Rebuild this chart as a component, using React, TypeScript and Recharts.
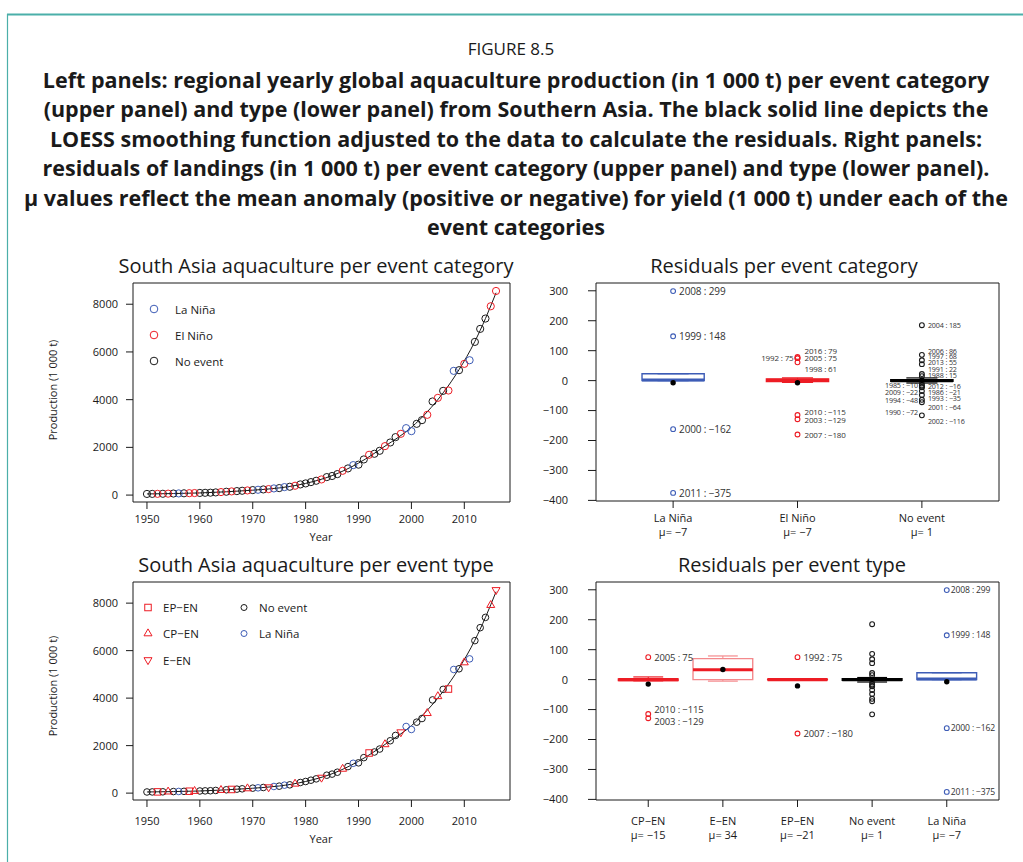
import React from "react";
import { ComposedChart, Scatter, Line, XAxis, YAxis, ReferenceArea, ReferenceLine } from "recharts";

const FONT = "'Open Sans', 'Noto Sans', sans-serif";
const RED = "#ED1C24";
const PINK = "#F4898C";
const BLUE = "#3D5CB6";
const INK = "#1A1A1A";
const TEAL = "#4BAFA9";

// yearly production, Southern Asia aquaculture (1 000 t)
const years = [
  1950, 1951, 1952, 1953, 1954, 1955, 1956, 1957, 1958, 1959,
  1960, 1961, 1962, 1963, 1964, 1965, 1966, 1967, 1968, 1969,
  1970, 1971, 1972, 1973, 1974, 1975, 1976, 1977, 1978, 1979,
  1980, 1981, 1982, 1983, 1984, 1985, 1986, 1987, 1988, 1989,
  1990, 1991, 1992, 1993, 1994, 1995, 1996, 1997, 1998, 1999,
  2000, 2001, 2002, 2003, 2004, 2005, 2006, 2007, 2008, 2009,
  2010, 2011, 2012, 2013, 2014, 2015, 2016,
];
const production = [
  48, 50, 52, 55, 60, 65, 70, 75, 80, 85,
  90, 95, 100, 112, 126, 140, 154, 167, 181, 195,
  209, 223, 237, 251, 279, 293, 335, 349, 391, 447,
  489, 544, 600, 656, 754, 800, 880, 1018, 1117, 1256,
  1275, 1494, 1689, 1731, 1856, 2052, 2205, 2429, 2568, 2806,
  2680, 2987, 3141, 3364, 3924, 4076, 4369, 4383, 5207, 5235,
  5500, 5653, 6421, 6966, 7400, 7915, 8556,
];

// event years
const laNinaYears = [1956, 1971, 1974, 1976, 1989, 1999, 2000, 2008, 2011];
const epEnYears = [1952, 1958, 1966, 1992, 2007];
const cpEnYears = [1954, 1959, 1964, 1969, 1978, 1987, 1995, 2003, 2005, 2010, 2015];
const eEnYears = [1973, 1983, 1998, 2016];

// LOESS curve
const loessYears = [1950, 1955, 1960, 1965, 1970, 1975, 1980, 1985, 1990, 1995, 2000, 2003, 2006, 2009, 2012, 2014, 2016];
const loessFit = [48, 64, 90, 138, 205, 300, 490, 815, 1340, 2050, 2840, 3490, 4285, 5255, 6440, 7400, 8480];

const yearTicks = [1950, 1960, 1970, 1980, 1990, 2000, 2010];
const prodTicks = [0, 2000, 4000, 6000, 8000];
const resTicks = [-400, -300, -200, -100, 0, 100, 200, 300];

// residuals per event category: [low whisker, q1, median, q3, high whisker]
const catNames = ["La Niña", "El Niño", "No event"];
const catMeans = [-7, -7, 1];
const catBoxes = [
  [0, 0, 2, 23, 23],
  [-6, -3.5, 0.5, 5.5, 9],
  [-8, -2, 0, 3, 9],
];
const laNinaOutYears = [2008, 1999, 2000, 2011];
const laNinaOutRes = [299, 148, -162, -375];
const elNinoOutYears = [2016, 2005, 1992, 1998, 2010, 2003, 2007];
const elNinoOutRes = [79, 75, 75, 61, -115, -129, -180];
const noEventOutYears = [2004, 2006, 1997, 2013, 1991, 1988, 1985, 2012, 1986, 2009, 1993, 1994, 2001, 1990, 2002];
const noEventOutRes = [185, 86, 68, 55, 22, 15, -10, -16, -21, -22, -35, -48, -64, -72, -116];

// residuals per event type
const typeNames = ["CP\u2212EN", "E\u2212EN", "EP\u2212EN", "No event", "La Niña"];
const typeMeans = [-15, 34, -21, 1, -7];
const typeBoxes = [
  [-4, -3.5, 0, 2.5, 9],
  [-5, 0, 33, 70, 79],
  [-1, -1, 0, 1, 1],
  [-8, -2, 0, 3, 7],
  [0, 0, 2, 23, 23],
];
const cpEnOutYears = [2005, 2010, 2003];
const cpEnOutRes = [75, -115, -129];
const epEnOutYears = [1992, 2007];
const epEnOutRes = [75, -180];

// label placement tweaks (px), to keep crowded labels apart like the original
const catLeftYears = [1992, 1985, 2009, 1994, 1990];
const catNudge: Record<number, number> = {
  2006: -3.5, 1997: -4, 2013: -2, 1991: -5.5, 1988: -1, 2012: 1, 1986: 5, 1993: 7,
  2001: 7.5, 2002: 6, 1985: 1.5, 2009: 4.5, 1994: 5.5, 1990: 9.5,
  2016: -6.5, 1998: 6, 2010: -4, 1992: -1, 2005: -1,
};
const typeNudge: Record<number, number> = { 2010: -4.5, 2003: 3.5 };

const titleLines = [
  "Left panels: regional yearly global aquaculture production (in 1 000 t) per event category",
  "(upper panel) and type (lower panel) from Southern Asia. The black solid line depicts the",
  "LOESS smoothing function adjusted to the data to calculate the residuals. Right panels:",
  "residuals of landings (in 1 000 t) per event category (upper panel) and type (lower panel).",
  "μ values reflect the mean anomaly (positive or negative) for yield (1 000 t) under each of the",
  "event categories",
];

const fmt = (v: number) => (v < 0 ? "\u2212" + Math.abs(v) : String(v));

const ring = (r: number, color: string) => (p: any) => (
  <circle cx={p.cx} cy={p.cy} r={r} fill="none" stroke={color} strokeWidth={1} />
);
const dot = (r: number, color: string) => (p: any) => <circle cx={p.cx} cy={p.cy} r={r} fill={color} />;
const square = (s: number, color: string) => (p: any) => (
  <rect x={p.cx - s / 2} y={p.cy - s / 2} width={s} height={s} fill="none" stroke={color} strokeWidth={1} />
);
const triUp = (s: number, color: string) => (p: any) => {
  const h = s * 0.866;
  return (
    <path
      d={`M${p.cx},${p.cy - (2 * h) / 3}L${p.cx + s / 2},${p.cy + h / 3}L${p.cx - s / 2},${p.cy + h / 3}Z`}
      fill="none"
      stroke={color}
      strokeWidth={1}
    />
  );
};
const triDown = (s: number, color: string) => (p: any) => {
  const h = s * 0.866;
  return (
    <path
      d={`M${p.cx},${p.cy + (2 * h) / 3}L${p.cx + s / 2},${p.cy - h / 3}L${p.cx - s / 2},${p.cy - h / 3}Z`}
      fill="none"
      stroke={color}
      strokeWidth={1}
    />
  );
};

const labelled =
  (color: string, fontSize: number, dx: number, nudge: Record<number, number>, leftYears: number[], showText = true) =>
  (p: any) => {
    const yr = p.payload.year;
    const left = leftYears.includes(yr);
    return (
      <g>
        <circle cx={p.cx} cy={p.cy} r={2.4} fill="none" stroke={color} strokeWidth={1.1} />
        {showText && (
          <text
            x={left ? p.cx - 4 : p.cx + dx}
            y={p.cy + (nudge[yr] ?? 0)}
            textAnchor={left ? "end" : "start"}
            dominantBaseline="central"
            fontSize={fontSize}
            letterSpacing={-0.15}
            fontFamily={FONT}
            fill="#333"
          >
            {`${yr} : ${fmt(p.payload.y)}`}
          </text>
        )}
      </g>
    );
  };

const tickStyle = { fill: INK, fontSize: 11, fontFamily: FONT };

function ProductionChart({
  boxTop,
  boxBottom,
  byType,
  xMargin,
}: {
  boxTop: number;
  boxBottom: number;
  byType: boolean;
  xMargin: number;
}) {
  const rows = years.map((yr, i) => ({ x: yr, y: production[i] }));
  const pick = (s: number[]) => rows.filter((r) => s.includes(r.x));
  const elNino = [...epEnYears, ...cpEnYears, ...eEnYears];
  const noEvent = rows.filter((r) => !laNinaYears.includes(r.x) && !elNino.includes(r.x));
  const loess = loessYears.map((yr, i) => ({ x: yr, y: loessFit[i] }));
  const series = byType
    ? [
        { data: noEvent, shape: ring(3.3, INK) },
        { data: pick(laNinaYears), shape: ring(3.3, BLUE) },
        { data: pick(epEnYears), shape: square(6.5, RED) },
        { data: pick(cpEnYears), shape: triUp(8, RED) },
        { data: pick(eEnYears), shape: triDown(8, RED) },
      ]
    : [
        { data: noEvent, shape: ring(3.6, INK) },
        { data: pick(elNino), shape: ring(3.6, RED) },
        { data: pick(laNinaYears), shape: ring(3.6, BLUE) },
      ];
  const xd = [1947.36, 2018.64];
  const yd = [-290, 8890];
  return (
    <div style={{ position: "absolute", left: 0, top: boxTop - 33 }}>
      <ComposedChart
        width={530}
        height={boxBottom - boxTop + 93}
        margin={{ top: 33, right: 20, left: 83, bottom: 30 }}
      >
        <XAxis
          type="number"
          dataKey="x"
          domain={xd}
          ticks={yearTicks}
          allowDataOverflow
          height={30}
          tickSize={7}
          tickMargin={xMargin}
          axisLine={false}
          tickLine={{ stroke: INK }}
          tick={tickStyle}
        />
        <YAxis
          type="number"
          dataKey="y"
          domain={yd}
          ticks={prodTicks}
          allowDataOverflow
          width={50}
          tickSize={7}
          tickMargin={8}
          axisLine={false}
          tickLine={{ stroke: INK }}
          tick={tickStyle}
        />
        <ReferenceArea x1={xd[0]} x2={xd[1]} y1={yd[0]} y2={yd[1]} fill="none" stroke={INK} strokeWidth={1} ifOverflow="visible" />
        <Line data={loess} dataKey="y" type="monotone" stroke={INK} strokeWidth={1} dot={false} isAnimationActive={false} />
        {series.map((s, i) => (
          <Scatter key={i} data={s.data} dataKey="y" shape={s.shape} isAnimationActive={false} />
        ))}
      </ComposedChart>
    </div>
  );
}

type OutSet = { data: { x: number; y: number; year: number }[]; shape: (p: any) => React.ReactElement };

function ResidualChart({
  boxTop,
  boxBottom,
  names,
  means,
  boxes,
  colors,
  boxColors,
  halfW,
  xd,
  xMargin,
  outliers,
}: {
  boxTop: number;
  boxBottom: number;
  names: string[];
  means: number[];
  boxes: number[][];
  colors: string[];
  boxColors: string[];
  halfW: number;
  xd: number[];
  xMargin: number;
  outliers: OutSet[];
}) {
  const yd = [-402, 326];
  const idx = names.map((_, i) => i + 1);
  const meanRows = means.map((m, i) => ({ x: i + 1, y: m }));
  const catTick = (p: any) => {
    const i = Math.round(p.payload.value) - 1;
    return (
      <text x={p.x} y={p.y} textAnchor="middle" fill={INK} fontSize={11} fontFamily={FONT}>
        <tspan x={p.x} dy="0.71em">
          {names[i]}
        </tspan>
        <tspan x={p.x} dy={14.5}>
          {"μ= " + fmt(means[i])}
        </tspan>
      </text>
    );
  };
  const boxEls = boxes.flatMap((b, k) => {
    const i = k + 1;
    const [lo, q1, med, q3, hi] = b;
    const c = colors[k];
    const bc = boxColors[k];
    return [
      <ReferenceLine key={`wl${k}`} segment={[{ x: i, y: lo }, { x: i, y: q1 }]} stroke={bc} strokeDasharray="3 2" ifOverflow="visible" />,
      <ReferenceLine key={`wh${k}`} segment={[{ x: i, y: q3 }, { x: i, y: hi }]} stroke={bc} strokeDasharray="3 2" ifOverflow="visible" />,
      <ReferenceLine key={`sl${k}`} segment={[{ x: i - halfW / 2, y: lo }, { x: i + halfW / 2, y: lo }]} stroke={bc} strokeWidth={1.2} ifOverflow="visible" />,
      <ReferenceLine key={`sh${k}`} segment={[{ x: i - halfW / 2, y: hi }, { x: i + halfW / 2, y: hi }]} stroke={bc} strokeWidth={1.2} ifOverflow="visible" />,
      <ReferenceArea key={`b${k}`} x1={i - halfW} x2={i + halfW} y1={q1} y2={q3} fill="none" stroke={bc} strokeWidth={1.4} ifOverflow="visible" />,
      <ReferenceLine key={`m${k}`} segment={[{ x: i - halfW, y: med }, { x: i + halfW, y: med }]} stroke={c} strokeWidth={3.2} ifOverflow="visible" />,
    ];
  });
  return (
    <div style={{ position: "absolute", left: 520, top: boxTop - 33 }}>
      <ComposedChart
        width={503}
        height={boxBottom - boxTop + 93}
        margin={{ top: 33, right: 24, left: 26, bottom: 20 }}
      >
        <XAxis
          type="number"
          dataKey="x"
          domain={xd}
          ticks={idx}
          allowDataOverflow
          height={40}
          tickSize={7}
          tickMargin={xMargin}
          axisLine={false}
          tickLine={{ stroke: INK }}
          tick={catTick}
        />
        <YAxis
          type="number"
          dataKey="y"
          domain={yd}
          ticks={resTicks}
          allowDataOverflow
          width={50}
          tickSize={8}
          tickMargin={20}
          axisLine={false}
          tickLine={{ stroke: INK }}
          tick={tickStyle}
          tickFormatter={fmt}
        />
        <ReferenceArea x1={xd[0]} x2={xd[1]} y1={yd[0]} y2={yd[1]} fill="none" stroke={INK} strokeWidth={1} ifOverflow="visible" />
        {boxEls}
        {outliers.map((o, i) => (
          <Scatter key={i} data={o.data} dataKey="y" shape={o.shape} isAnimationActive={false} />
        ))}
        <Scatter data={meanRows} dataKey="y" shape={dot(2.7, "#000")} isAnimationActive={false} />
      </ComposedChart>
    </div>
  );
}

const outRows = (g: number, ys: number[], rs: number[]) => ys.map((yr, i) => ({ x: g, y: rs[i], year: yr }));

export default function App() {
  const catOutliers: OutSet[] = [
    { data: outRows(1, laNinaOutYears, laNinaOutRes), shape: labelled(BLUE, 10, 6, catNudge, catLeftYears) },
    { data: outRows(2, elNinoOutYears, elNinoOutRes), shape: labelled(RED, 8, 7, catNudge, catLeftYears) },
    { data: outRows(3, noEventOutYears, noEventOutRes), shape: labelled(INK, 7.2, 6, catNudge, catLeftYears) },
  ];
  const typeOutliers: OutSet[] = [
    { data: outRows(1, cpEnOutYears, cpEnOutRes), shape: labelled(RED, 9.5, 6, typeNudge, []) },
    { data: outRows(3, epEnOutYears, epEnOutRes), shape: labelled(RED, 9.5, 6, typeNudge, []) },
    { data: outRows(4, noEventOutYears, noEventOutRes), shape: labelled(INK, 9, 5, typeNudge, [], false) },
    { data: outRows(5, laNinaOutYears, laNinaOutRes), shape: labelled(BLUE, 8.6, 4, typeNudge, []) },
  ];
  const txt = { fontFamily: FONT, fill: INK };
  return (
    <div
      style={{ position: "absolute", left: 0, top: 0, width: 1023, height: 862, background: "#fff", overflow: "hidden" }}
    >
      <ProductionChart boxTop={283} boxBottom={502} byType={false} xMargin={6} />
      <ProductionChart boxTop={582} boxBottom={800} byType={true} xMargin={10} />
      <ResidualChart
        boxTop={283}
        boxBottom={501}
        names={catNames}
        means={catMeans}
        boxes={catBoxes}
        colors={[BLUE, RED, "#000"]}
        boxColors={[BLUE, RED, "#000"]}
        halfW={0.25}
        xd={[0.38, 3.62]}
        xMargin={6}
        outliers={catOutliers}
      />
      <ResidualChart
        boxTop={582}
        boxBottom={800}
        names={typeNames}
        means={typeMeans}
        boxes={typeBoxes}
        colors={[RED, RED, RED, "#000", BLUE]}
        boxColors={[RED, PINK, RED, "#000", BLUE]}
        halfW={0.4}
        xd={[0.3, 5.7]}
        xMargin={10}
        outliers={typeOutliers}
      />
      <svg width={1023} height={862} style={{ position: "absolute", left: 0, top: 0, pointerEvents: "none" }}>
        <line x1={7} y1={14.5} x2={1023} y2={14.5} stroke={TEAL} strokeWidth={2} />
        <line x1={7.5} y1={14} x2={7.5} y2={862} stroke={TEAL} strokeWidth={1.2} />
        <text x={511} y={48} textAnchor="middle" dominantBaseline="central" fontSize={17} {...txt}>
          FIGURE 8.5
        </text>
        {titleLines.map((t, i) => (
          <text
            key={i}
            x={516}
            y={79 + i * 29.5}
            textAnchor="middle"
            dominantBaseline="central"
            fontSize={21.5}
            fontWeight={700}
            {...txt}
          >
            {t}
          </text>
        ))}
        <text x={316} y={265} textAnchor="middle" dominantBaseline="central" fontSize={20} {...txt}>
          South Asia aquaculture per event category
        </text>
        <text x={784} y={265} textAnchor="middle" dominantBaseline="central" fontSize={20} {...txt}>
          Residuals per event category
        </text>
        <text x={316} y={564} textAnchor="middle" dominantBaseline="central" fontSize={20} {...txt}>
          South Asia aquaculture per event type
        </text>
        <text x={792} y={564} textAnchor="middle" dominantBaseline="central" fontSize={20} {...txt}>
          Residuals per event type
        </text>
        <text x={321} y={536} textAnchor="middle" dominantBaseline="central" fontSize={11} {...txt}>
          Year
        </text>
        <text x={321} y={838} textAnchor="middle" dominantBaseline="central" fontSize={11} {...txt}>
          Year
        </text>
        <text transform="translate(52,390) rotate(-90)" textAnchor="middle" dominantBaseline="central" fontSize={11} {...txt}>
          Production (1 000 t)
        </text>
        <text transform="translate(52,686) rotate(-90)" textAnchor="middle" dominantBaseline="central" fontSize={11} {...txt}>
          Production (1 000 t)
        </text>
        {/* legend, upper-left panel */}
        {ring(3.8, BLUE)({ cx: 154, cy: 309 })}
        {ring(3.8, RED)({ cx: 154, cy: 335 })}
        {ring(3.8, INK)({ cx: 154, cy: 361 })}
        <text x={175} y={309} dominantBaseline="central" fontSize={11.5} {...txt}>La Niña</text>
        <text x={175} y={335} dominantBaseline="central" fontSize={11.5} {...txt}>El Niño</text>
        <text x={175} y={361} dominantBaseline="central" fontSize={11.5} {...txt}>No event</text>
        {/* legend, lower-left panel */}
        {square(6.5, RED)({ cx: 148, cy: 607.5 })}
        {triUp(8, RED)({ cx: 148, cy: 633.5 })}
        {triDown(8, RED)({ cx: 148, cy: 660 })}
        {ring(3, INK)({ cx: 244, cy: 607.5 })}
        {ring(3, BLUE)({ cx: 244, cy: 633.5 })}
        <text x={163} y={607.5} dominantBaseline="central" fontSize={11.5} {...txt}>EP{"\u2212"}EN</text>
        <text x={163} y={633.5} dominantBaseline="central" fontSize={11.5} {...txt}>CP{"\u2212"}EN</text>
        <text x={163} y={660} dominantBaseline="central" fontSize={11.5} {...txt}>E{"\u2212"}EN</text>
        <text x={259} y={607.5} dominantBaseline="central" fontSize={11.5} {...txt}>No event</text>
        <text x={259} y={633.5} dominantBaseline="central" fontSize={11.5} {...txt}>La Niña</text>
      </svg>
    </div>
  );
}
